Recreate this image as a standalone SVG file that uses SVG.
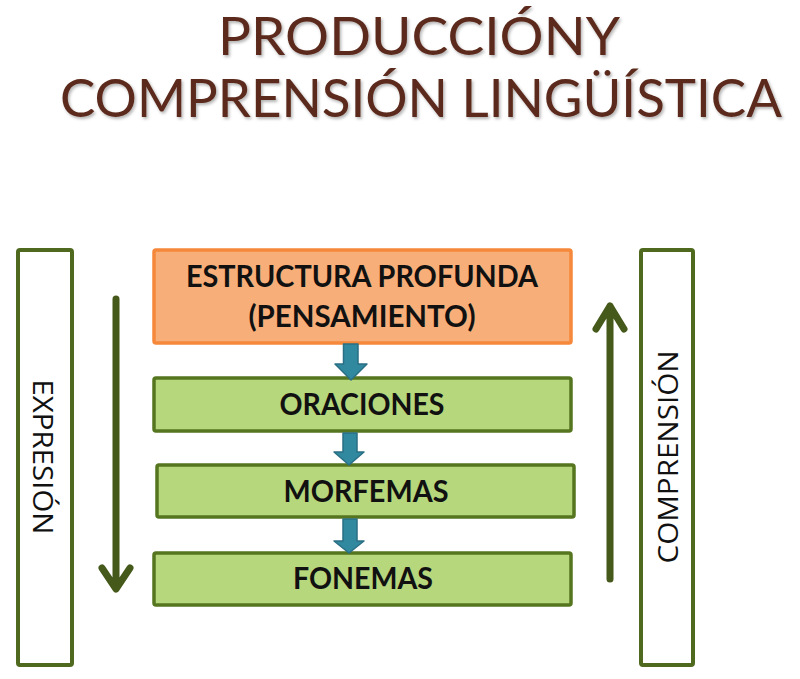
<svg xmlns="http://www.w3.org/2000/svg" width="800" height="679" viewBox="0 0 800 679">
<defs>
<style>
.title{font-family:"Lato","Open Sans","Liberation Sans",sans-serif;font-size:53px;fill:#5b2a1c;text-anchor:middle}
.lbl{font-family:"Lato","Open Sans","Liberation Sans",sans-serif;font-weight:bold;font-size:30px;fill:#111;text-anchor:middle}
.side{font-family:"Open Sans","Lato","Liberation Sans",sans-serif;font-size:28px;fill:#111;text-anchor:middle}
.gbox{fill:#b7d77c;stroke:#55761f;stroke-width:3.5}
.obox{fill:#f8ae78;stroke:#f5883a;stroke-width:3.5}
.sbox{fill:#ffffff;stroke:#4f6a1e;stroke-width:4}
.garrow{fill:none;stroke:#45591a;stroke-width:7;stroke-linecap:round;stroke-linejoin:round}
.barrow{fill:#3189a0;stroke:#2a6f84;stroke-width:1.5;stroke-linejoin:round}
</style>
<filter id="sh" x="-5%" y="-20%" width="110%" height="140%">
<feDropShadow dx="1.5" dy="2" stdDeviation="1.5" flood-color="#000" flood-opacity="0.3"/>
</filter>
</defs>
<rect width="800" height="679" fill="#ffffff"/>
<g id="title" filter="url(#sh)">
<text class="title" x="419" y="55" textLength="402" lengthAdjust="spacingAndGlyphs">PRODUCCIÓNY</text>
<text class="title" x="421" y="117" textLength="722" lengthAdjust="spacingAndGlyphs">COMPRENSIÓN LINGÜÍSTICA</text>
</g>
<g id="expresion">
<rect class="sbox" x="18" y="250" width="54" height="415" rx="2"/>
<text class="side" transform="translate(33,457) rotate(90)" textLength="155" lengthAdjust="spacingAndGlyphs">EXPRESIÓN</text>
</g>
<g id="comprension">
<rect class="sbox" x="641" y="250" width="52" height="415" rx="2"/>
<text class="side" transform="translate(678,457) rotate(-90)" textLength="213" lengthAdjust="spacingAndGlyphs">COMPRENSIÓN</text>
</g>
<g id="estructura">
<rect class="obox" x="154" y="250" width="417" height="93" rx="2"/>
<text class="lbl" x="362" y="287" textLength="352" lengthAdjust="spacingAndGlyphs">ESTRUCTURA PROFUNDA</text>
<text class="lbl" x="362" y="327" textLength="227" lengthAdjust="spacingAndGlyphs">(PENSAMIENTO)</text>
</g>
<g id="oraciones">
<rect class="gbox" x="154" y="378" width="417" height="53" rx="2"/>
<text class="lbl" x="362" y="415" textLength="165" lengthAdjust="spacingAndGlyphs">ORACIONES</text>
</g>
<g id="morfemas">
<rect class="gbox" x="157" y="465" width="417" height="52" rx="2"/>
<text class="lbl" x="366" y="502" textLength="165" lengthAdjust="spacingAndGlyphs">MORFEMAS</text>
</g>
<g id="fonemas">
<rect class="gbox" x="154" y="553" width="417" height="52" rx="2"/>
<text class="lbl" x="363" y="589" textLength="140" lengthAdjust="spacingAndGlyphs">FONEMAS</text>
</g>
<g id="connectors">
<path class="barrow" d="M343.5,344 H358 V364 H367 L351,380 L335,364 H343.5 Z"/>
<path class="barrow" d="M343,433 H357 V452 H364 L349,465 L334,452 H343 Z"/>
<path class="barrow" d="M343,519 H357 V541 H364 L349,553 L334,541 H343 Z"/>
<path class="garrow" d="M116,299 V588 M102,568 L116,589 L130,568"/>
<path class="garrow" d="M610,579 V306 M596,329 L610,306 L624,329"/>
</g>
</svg>
